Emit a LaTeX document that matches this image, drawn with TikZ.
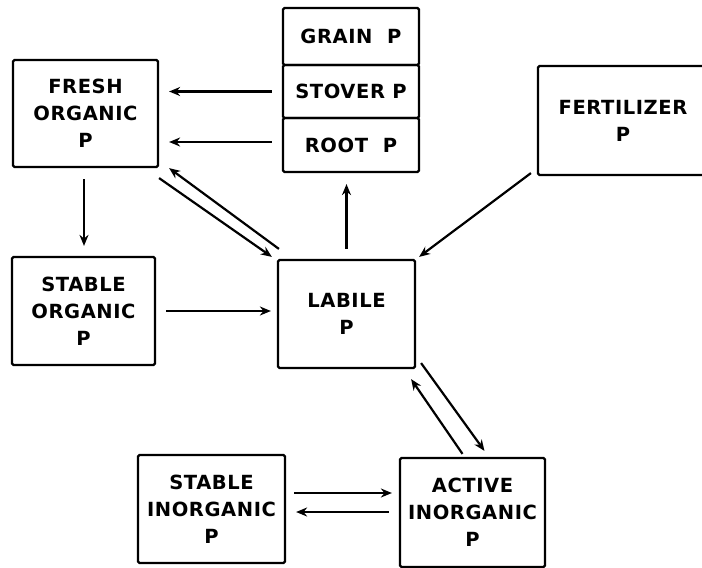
\documentclass[tikz,border=0pt]{standalone}
\usepackage{fontspec}
\setmainfont{DejaVu Sans}[LetterSpace=3]
\usetikzlibrary{arrows.meta}
\begin{document}
\begin{tikzpicture}[x=1pt,y=-1pt,
  pool/.style={draw,line width=2.2pt,rounded corners=1.5pt,align=center,inner sep=0pt,
    font=\bfseries\fontsize{19.5}{27}\selectfont},
  flow/.style={line width=2.2pt,-{Stealth[length=11pt,width=9pt]}}]
\useasboundingbox (0,0) rectangle (702,568);

% pools
\node[pool,minimum width=145,minimum height=107] (fresh) at (85.5,113.5) {FRESH\\ORGANIC\\P};
\node[pool,minimum width=143,minimum height=108] (sorg) at (83.5,311) {STABLE\\ORGANIC\\P};
\node[pool,minimum width=137,minimum height=108] (labile) at (346.5,314) {LABILE\\P};
\node[pool,minimum width=170,minimum height=109] (fert) at (623,120.5) {FERTILIZER\\P};
\node[pool,minimum width=147,minimum height=108] (sinorg) at (211.5,509) {STABLE\\INORGANIC\\P};
\node[pool,minimum width=145,minimum height=109] (active) at (472.5,512.5) {ACTIVE\\INORGANIC\\P};

% plant pools stacked
\node[pool,minimum width=136,minimum height=57] (grain) at (351,36.5) {GRAIN\ \ P};
\node[pool,minimum width=136,minimum height=53] (stover) at (351,91.5) {STOVER\ P};
\node[pool,minimum width=136,minimum height=54] (root) at (351,145) {ROOT\ \ P};

% flows
\draw[flow,shorten <=10pt,shorten >=10pt] (stover.west) -- (stover.west -| fresh.east);
\draw[flow,shorten <=10pt,shorten >=10pt] ([shift={(0,-3)}]root.west) -- ([shift={(0,-3)}]root.west -| fresh.east);
\draw[flow,shorten <=11pt,shorten >=10pt] ([shift={(-1.5,0)}]fresh.south) -- ([shift={(-1.5,0)}]fresh.south |- sorg.north);
\draw[flow] ([shift={(0,10)}]fresh.south east) -- ([shift={(-5,-2)}]labile.north west);
\draw[flow] ([shift={(2,-10)}]labile.north west) -- ([shift={(10,0)}]fresh.south east);
\draw[flow,shorten <=10pt,shorten >=11pt] (labile.north) -- (labile.north |- root.south);
\draw[flow] ([shift={(-6,-3)}]fert.south west) -- ([shift={(3,-2)}]labile.north east);
\draw[flow,shorten <=10pt,shorten >=6pt] (sorg.east) -- (sorg.east -| labile.west);
\draw[flow] ([shift={(5,-6)}]labile.south east) -- ([shift={(12,-6)}]active.north);
\draw[flow] ([shift={(-10,-3)}]active.north) -- ([shift={(-5,10)}]labile.south east);
\draw[flow,shorten <=8pt,shorten >=7pt] ([shift={(0,-16)}]sinorg.east) -- ([shift={(0,-16)}]sinorg.east -| active.west);
\draw[flow,shorten <=10pt,shorten >=10pt] ([shift={(0,3)}]sinorg.east -| active.west) -- ([shift={(0,3)}]sinorg.east);
\end{tikzpicture}
\end{document}
